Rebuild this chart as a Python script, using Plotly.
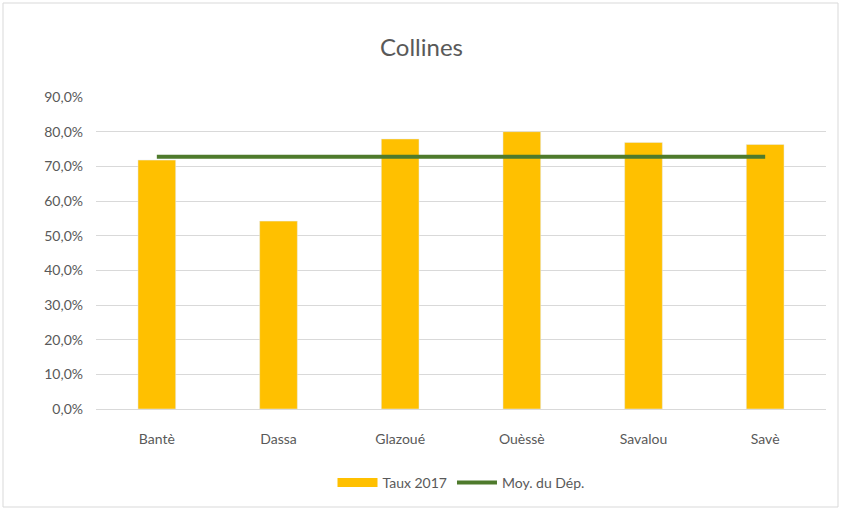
import plotly.graph_objects as go

communes = ["Bantè", "Dassa", "Glazoué", "Ouèssè", "Savalou", "Savè"]
taux_2017 = [0.718, 0.542, 0.779, 0.800, 0.769, 0.763]
moy_dep = [0.728] * 6
y_ticks = [i / 10 for i in range(10)]
y_tick_labels = [f"{v*100:.1f}%".replace(".", ",") for v in y_ticks]

YELLOW = "#FFC000"
GREEN = "#4E7A2C"

fig = go.Figure()
fig.add_trace(go.Bar(x=communes, y=taux_2017, name="Taux 2017",
                     marker_color=YELLOW, width=0.31, showlegend=False))
# legend entry drawn as a wide swatch (Excel style)
fig.add_trace(go.Scatter(x=[communes[0]], y=[None], name="Taux 2017", mode="lines",
                         line=dict(color=YELLOW, width=9), hoverinfo="skip"))
fig.add_trace(go.Scatter(x=communes, y=moy_dep, name="Moy. du Dép.", mode="lines",
                         line=dict(color=GREEN, width=4)))

fig.update_layout(
    width=843, height=511,
    margin=dict(l=96, r=17, t=97, b=102),
    paper_bgcolor="white", plot_bgcolor="white",
    font=dict(family="Lato, Liberation Sans, sans-serif", color="#595959", size=14),
    title=dict(text="Collines", x=0.5, xanchor="center", y=0.907, yanchor="middle",
               font=dict(size=24, color="#595959")),
    yaxis=dict(range=[0, 0.9], tickvals=y_ticks + [0.9], ticktext=y_tick_labels + ["90,0%"],
               showgrid=True, gridcolor="#D9D9D9", gridwidth=1, zeroline=False,
               showline=False, ticks="", ticklabelstandoff=12),
    xaxis=dict(showline=True, linecolor="#D9D9D9", linewidth=1, ticks="",
               ticklabelstandoff=17),
    legend=dict(orientation="h", x=0.5, xanchor="center", y=-0.237, yanchor="middle",
                font=dict(size=14, color="#595959"), traceorder="normal", itemwidth=40),
    bargap=0.69,
    shapes=[dict(type="rect", xref="paper", yref="paper",
                 x0=-93/730, x1=1 + 12/730, y0=-98/312, y1=1 + 94/312,
                 line=dict(color="#D9D9D9", width=1), fillcolor="rgba(0,0,0,0)")],
)

fig.write_html("out.html", config={"displayModeBar": False},
               post_script="document.body.style.margin='0';")
